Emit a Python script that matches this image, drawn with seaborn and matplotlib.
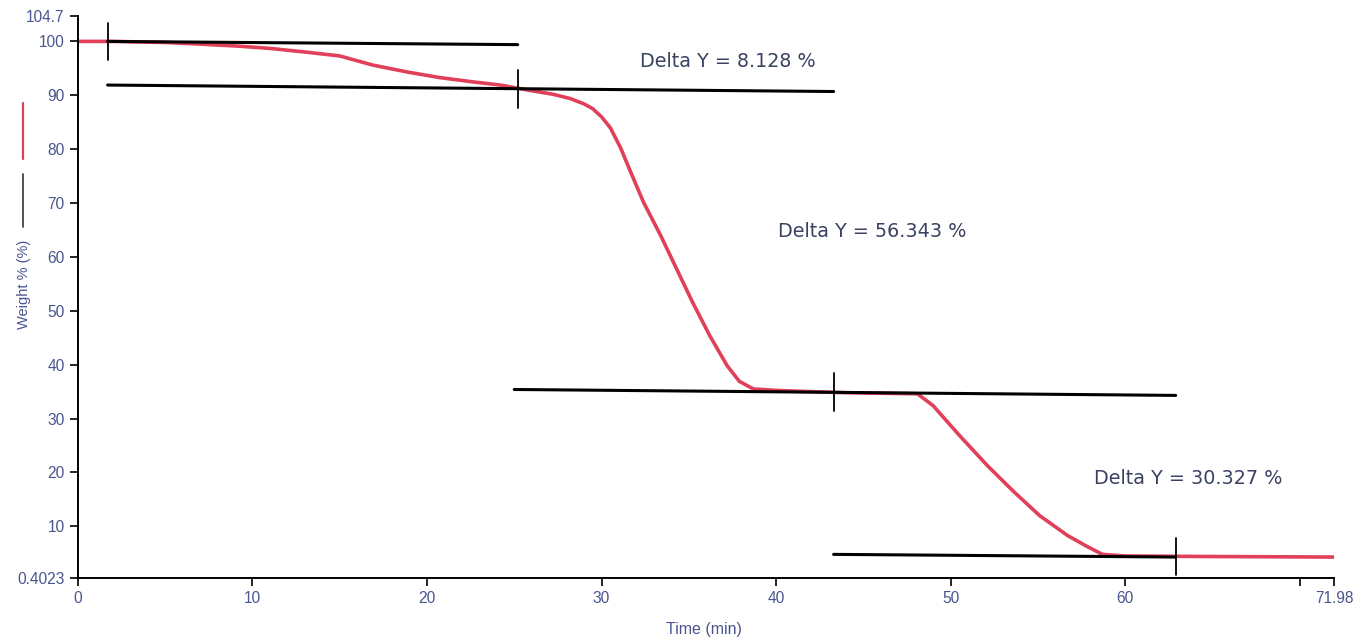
import numpy as np
import pandas as pd
import matplotlib
matplotlib.use('Agg')
import matplotlib.pyplot as plt
import seaborn as sns
from matplotlib.lines import Line2D

# TGA curve
time_min = [0, 2, 5, 7, 9.3, 11, 13.1, 15.0, 16.9, 18.9, 20.7, 22.6, 24.2, 25.9,
            27.2, 28.2, 29.0, 29.5, 30.0, 30.5, 31.1, 31.6, 32.4, 33.4, 34.3, 35.2,
            36.2, 37.2, 37.9, 38.7, 40.2, 42, 44, 46, 48.1, 49.0, 50.5, 52.1, 53.6,
            55.1, 56.7, 57.8, 58.7, 60, 65, 71.98]
weight_pct = [100, 100, 99.8, 99.5, 99.1, 98.7, 98.0, 97.3, 95.6, 94.3, 93.3, 92.5,
              91.9, 90.9, 90.2, 89.4, 88.4, 87.5, 86.0, 84.0, 80.2, 76.3, 70.2, 63.9,
              57.8, 51.7, 45.4, 39.8, 36.9, 35.5, 35.2, 35.0, 34.8, 34.7, 34.6, 32.4,
              26.9, 21.3, 16.5, 12.0, 8.3, 6.3, 4.8, 4.5, 4.4, 4.3]

# tangent lines (start x, end x, start y, end y)
tan_x0 = [1.7, 1.7, 25.0, 43.3]
tan_x1 = [25.2, 43.3, 62.9, 62.9]
tan_y0 = [100.0, 91.9, 35.4, 4.8]
tan_y1 = [99.4, 90.7, 34.3, 4.3]

# step markers (vertical cursors)
mark_x = [1.7, 25.2, 43.3, 62.9]
mark_y = [100.0, 91.2, 34.9, 4.4]

delta_labels = ['Delta Y = 8.128 %', 'Delta Y = 56.343 %', 'Delta Y = 30.327 %']
delta_x = [32.2, 40.1, 58.2]
delta_y = [96.3, 64.8, 18.9]

y_ticks = [0.4023, 10, 20, 30, 40, 50, 60, 70, 80, 90, 100, 104.7]
y_ticklabels = ['0.4023', '10', '20', '30', '40', '50', '60', '70', '80', '90', '100', '104.7']
x_ticks = [0, 10, 20, 30, 40, 50, 60, 70, 71.98]
x_ticklabels = ['0', '10', '20', '30', '40', '50', '60', '', '71.98']

sns.set_style('ticks')
plt.rcParams['font.family'] = ['Liberation Sans', 'DejaVu Sans']

fig = plt.figure(figsize=(13.67, 6.43), dpi=100)
ax = fig.add_axes([0.057, 0.101, 0.919, 0.874])

red = '#e0405a'
tick_col = '#4a5590'

curve = pd.DataFrame({'time': time_min, 'weight': weight_pct})
sns.lineplot(data=curve, x='time', y='weight', ax=ax, color=red, linewidth=2.6,
             zorder=2, solid_joinstyle='round')

for x0, x1, y0, y1 in zip(tan_x0, tan_x1, tan_y0, tan_y1):
    seg = pd.DataFrame({'x': [x0, x1], 'y': [y0, y1]})
    sns.lineplot(data=seg, x='x', y='y', ax=ax, color='black', linewidth=2.2, zorder=3)

for mx, my in zip(mark_x, mark_y):
    ax.plot([mx, mx], [my - 3.5, my + 3.5], color='black', linewidth=1.3, zorder=4)

for lab, tx, ty in zip(delta_labels, delta_x, delta_y):
    ax.text(tx, ty, lab, fontsize=13.8, color='#3a4262', va='center', ha='left',
            family='DejaVu Sans')

ax.set_xlim(0, 71.98)
ax.set_ylim(0.4023, 104.7)
ax.set_xticks(x_ticks)
ax.set_xticklabels(x_ticklabels)
ax.set_yticks(y_ticks)
ax.set_yticklabels(y_ticklabels)
ax.tick_params(axis='both', colors='black', labelcolor=tick_col, labelsize=11.2,
               length=6, width=1.2, direction='out')
ax.set_xlabel('Time (min)', fontsize=11.5, color=tick_col)
ax.xaxis.set_label_coords(0.498, -0.078)
ax.set_ylabel('Weight % (%)', fontsize=10.5, color=tick_col)
ax.yaxis.set_label_coords(-0.037, 0.523)
for s in ['top', 'right']:
    ax.spines[s].set_visible(False)
for s in ['left', 'bottom']:
    ax.spines[s].set_linewidth(1.4)
    ax.spines[s].set_color('black')

# legend swatches next to the y label
fig.add_artist(Line2D([0.0166, 0.0166], [1 - 159 / 643, 1 - 103 / 643], color=red, linewidth=1.6))
fig.add_artist(Line2D([0.0166, 0.0166], [1 - 227 / 643, 1 - 174 / 643], color='#333333', linewidth=1.2))

fig.savefig('out.png', dpi=100)
